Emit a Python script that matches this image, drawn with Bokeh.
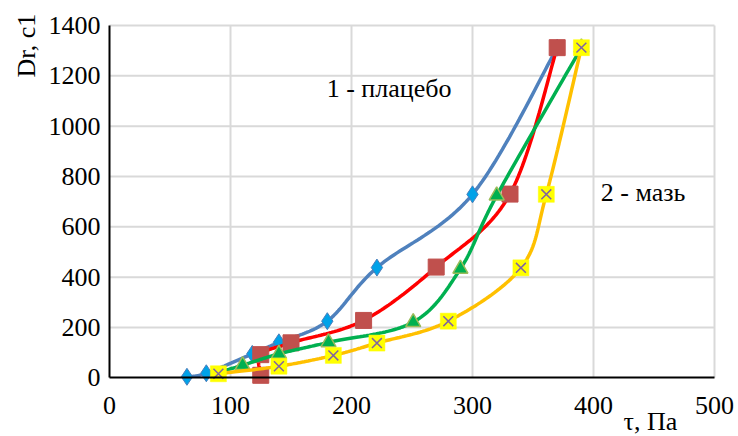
import numpy as np
from bokeh.plotting import figure
from bokeh.models import Range1d, Label, FixedTicker
from bokeh.embed import file_html
from bokeh.resources import INLINE

# Shear stress τ (Pa) vs shear rate Dr (1/s) for four samples
blue_tau = [64, 80, 118, 140, 180, 221, 300, 370]
blue_dr = [4, 18, 95, 141, 225, 438, 729, 1312]

red_tau = [125, 125, 150, 210, 270, 331, 370]
red_dr = [10, 92, 139, 228, 440, 730, 1312]

green_tau = [90, 110, 140, 181, 251, 290, 320, 390]
green_dr = [22, 50, 95, 141, 221, 433, 724, 1312]

yellow_tau = [90, 140, 185, 221, 280, 340, 361, 390]
yellow_dr = [16, 46, 89, 138, 225, 437, 729, 1312]

x_ticks = [0, 100, 200, 300, 400, 500]
y_ticks = [0, 200, 400, 600, 800, 1000, 1200, 1400]

X_MAX, Y_MAX = 500, 1400

FONT = "Times New Roman"
FS = "26px"


def smooth(xs, ys, n=30):
    """Cubic Bezier smoothing through the points (Catmull-Rom style)."""
    x = np.asarray(xs, float)
    y = np.asarray(ys, float)
    px = np.concatenate([[x[0]], x, [x[-1]]])
    py = np.concatenate([[y[0]], y, [y[-1]]])
    out_x, out_y = [], []
    t = np.linspace(0, 1, n)
    for i in range(1, len(px) - 2):
        p0x, p0y = px[i], py[i]
        p3x, p3y = px[i + 1], py[i + 1]
        c1x = p0x + (px[i + 1] - px[i - 1]) / 6
        c1y = p0y + (py[i + 1] - py[i - 1]) / 6
        c2x = p3x - (px[i + 2] - px[i]) / 6
        c2y = p3y - (py[i + 2] - py[i]) / 6
        bx = ((1 - t) ** 3) * p0x + 3 * ((1 - t) ** 2) * t * c1x + 3 * (1 - t) * t ** 2 * c2x + t ** 3 * p3x
        by = ((1 - t) ** 3) * p0y + 3 * ((1 - t) ** 2) * t * c1y + 3 * (1 - t) * t ** 2 * c2y + t ** 3 * p3y
        out_x.extend(bx.tolist())
        out_y.extend(by.tolist())
    return out_x, out_y


# Plot area 0..500 spans pixels 109..714, 0..1400 spans 377..25; the frame covers
# the whole canvas so the captions outside the axes stay visible.
W, H = 738, 436
PX0, PX1, PY0, PY1 = 109, 714, 377.3, 25
sx_ = (PX1 - PX0) / X_MAX
sy_ = (PY0 - PY1) / Y_MAX
p = figure(width=W, height=H, output_backend="svg", toolbar_location=None,
           x_range=Range1d(-PX0 / sx_, (W - PX0) / sx_),
           y_range=Range1d((PY0 - H) / sy_, PY0 / sy_),
           min_border=0)
p.outline_line_color = None
p.background_fill_color = "white"
p.border_fill_color = "white"
p.xgrid.visible = False
p.ygrid.visible = False

# gridlines limited to the value area
p.segment(x0=x_ticks[1:], y0=0, x1=x_ticks[1:], y1=Y_MAX, line_color="#d9d9d9", line_width=2)
p.segment(x0=0, y0=y_ticks[1:], x1=X_MAX, y1=y_ticks[1:], line_color="#d9d9d9", line_width=2)

xa, ya = p.xaxis[0], p.yaxis[0]
xa.fixed_location = 0
ya.fixed_location = 0
xa.bounds = (0, X_MAX)
ya.bounds = (0, Y_MAX)
for ax in (xa, ya):
    ax.major_tick_line_color = None
    ax.minor_tick_line_color = None
    ax.major_tick_out = 0
    ax.major_tick_in = 0
    ax.axis_line_color = "black"
    ax.axis_line_width = 2
    ax.major_label_text_font = FONT
    ax.major_label_text_font_size = FS
    ax.major_label_text_color = "black"
xa.ticker = FixedTicker(ticks=x_ticks)
ya.ticker = FixedTicker(ticks=y_ticks)
xa.major_label_standoff = 19
ya.major_label_standoff = 9

LW = 3.5

# series 1: blue line with light-blue diamonds
sx, sy = smooth(blue_tau, blue_dr)
p.line(sx, sy, line_color="#4f81bd", line_width=LW)
p.scatter(blue_tau, blue_dr, marker="diamond", size=17, fill_color="#00a2e8",
          line_color="#4a7ebb", line_width=1)

# series 2: red line with brick squares
sx, sy = smooth(red_tau, red_dr)
p.line(sx, sy, line_color="#ff0000", line_width=LW)
p.scatter(red_tau, red_dr, marker="square", size=16, fill_color="#c0504d",
          line_color="#c0504d", line_width=1)

# series 3: green line with triangles
sx, sy = smooth(green_tau, green_dr)
p.line(sx, sy, line_color="#00b050", line_width=LW)
p.scatter(green_tau[1:], green_dr[1:], marker="triangle", size=15, fill_color="#00b050",
          line_color="#9bbb59", line_width=1.5)

# series 4: amber line with yellow crossed squares
sx, sy = smooth(yellow_tau, yellow_dr)
p.line(sx, sy, line_color="#ffc000", line_width=LW)
p.scatter(yellow_tau, yellow_dr, marker="square", size=16, fill_color="#ffff00",
          line_color="#ffff00", line_width=0.5)
p.scatter(yellow_tau, yellow_dr, marker="x", size=14, line_color="#8064a2", line_width=1.5)

p.add_layout(Label(x=231, y=1150, text="1 - плацебо", text_font=FONT, text_font_size=FS,
                   text_align="center", text_baseline="middle", text_color="black"))
p.add_layout(Label(x=406, y=737, text="2 - мазь", text_font=FONT, text_font_size=FS,
                   text_align="left", text_baseline="middle", text_color="black"))

# axis captions
p.add_layout(Label(x=-68.5, y=1320, text="Dr, c1", text_font=FONT, text_font_size=FS,
                   angle=np.pi / 2, text_align="center", text_baseline="middle",
                   text_color="black"))
p.add_layout(Label(x=447, y=-174, text="τ, Па", text_font=FONT, text_font_size=FS,
                   text_align="center", text_baseline="middle", text_color="black"))

open("out.html", "w").write(file_html(p, INLINE))
